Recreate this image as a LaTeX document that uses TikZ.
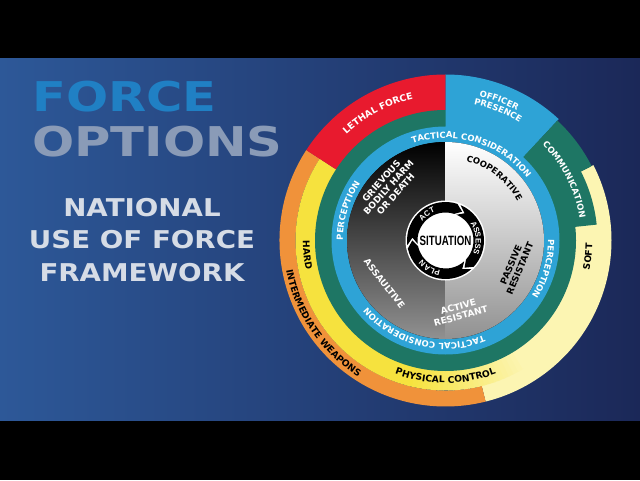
\documentclass[tikz,border=0pt]{standalone}
\usepackage{fontspec}
\setmainfont{DejaVu Sans}
\newfontfamily\arialfont{Liberation Sans}
\usetikzlibrary{decorations.text}

\definecolor{bgleft}{RGB}{45,88,152}
\definecolor{bgright}{RGB}{27,40,88}
\definecolor{titleblue}{RGB}{32,128,196}
\definecolor{titlegray}{RGB}{138,155,183}
\definecolor{subgray}{RGB}{214,220,230}
\definecolor{lethalred}{RGB}{232,26,46}
\definecolor{presenceblue}{RGB}{46,163,214}
\definecolor{commgreen}{RGB}{30,118,100}
\definecolor{hardyellow}{RGB}{246,226,62}
\definecolor{softyellow}{RGB}{252,245,178}
\definecolor{weaponorange}{RGB}{240,146,58}
\definecolor{diskgray}{RGB}{145,145,145}

\newcommand\ringfont{\fontsize{8.5}{9}\selectfont\bfseries}
\newcommand\bandfont{\fontsize{9.2}{10}\selectfont\bfseries}
\newcommand\cyclefont{\arialfont\fontsize{7.8}{8}\selectfont\bfseries}
\newcommand\innerfont{\fontsize{9}{9.6}\selectfont\bfseries}

\begin{document}
\begin{tikzpicture}[
		x=1pt, y=1pt,
		line join=round,
		inner/.style={font=\innerfont, align=center, inner sep=0pt},
		headline/.style={inner sep=0pt, font=\fontsize{41}{41}\selectfont\bfseries, 
			xscale=1.21, anchor=base west},
		subline/.style={inner sep=0pt, font=\fontsize{24.5}{24.5}\selectfont\bfseries, 
			xscale=1.13, anchor=base, text=subgray}
		]
		
		\useasboundingbox (0,0) rectangle (640,480);
		\fill[black] (0,0) rectangle (640,480);
		\fill[left color=bgleft, right color=bgright] (0,60) rectangle (640,421);
		
		\node[headline, text=titleblue] (force) at (32,368) {FORCE};
		\node[headline, text=titlegray] (options) at (32,323) {OPTIONS};
		\node[subline] (national) at (142,263) {NATIONAL};
		\node[subline] (useof) at (142,232) {USE OF FORCE};
		\node[subline] (framework) at (142,199) {FRAMEWORK};
		
		\def\ringlabel#1#2#3#4#5{%
			\path[decorate, decoration={text along path, text align=center, text={|#4|#5}}] 
			({#1+(#3)}:#2) arc[start angle={#1+(#3)}, end angle={#1-(#3)}, radius=#2];}
		
		\begin{scope}[shift={(445.5,239.5)}]
			\fill[softyellow] (-76:166) arc[start angle=-76, end angle=27, radius=166] -- 
			(27:129) arc[start angle=27, end angle=-76, radius=129] -- cycle;
			\fill[weaponorange] (147:166) arc[start angle=147, end angle=284, radius=166] -- 
			(284:150) arc[start angle=284, end angle=147, radius=150] -- cycle;
			\fill[hardyellow] (147:150) arc[start angle=147, end angle=256, radius=150] -- 
			(256:129) arc[start angle=256, end angle=147, radius=129] -- cycle;
			\foreach \a in {255,257,...,301} {
				\pgfmathtruncatemacro\p{(\a-255)*100/46}
				\fill[softyellow!\p!hardyellow] (\a:150) arc[start angle=\a, end angle=\a+2.4, radius=150] -- 
				({\a+2.4}:129) arc[start angle=\a+2.4, end angle=\a, radius=129] -- cycle;
			}
			
			\fill[lethalred] (90:166) arc[start angle=90, end angle=147, radius=166] -- 
			(147:130) arc[start angle=147, end angle=90, radius=130] -- cycle;
			\fill[commgreen, even odd rule] (0,0) circle[radius=130.5] (0,0) circle[radius=112];
			\fill[presenceblue] (47:166) arc[start angle=47, end angle=90, radius=166] -- 
			(90:100) arc[start angle=90, end angle=47, radius=100] -- cycle;
			\fill[commgreen] (6:112) -- (6:152) arc[start angle=6, end angle=27, radius=152] -- 
			(27:164) arc[start angle=27, end angle=47, radius=164] -- 
			(47:112) arc[start angle=47, end angle=6, radius=112] -- cycle;
			\fill[presenceblue, even odd rule] (0,0) circle[radius=114] (0,0) circle[radius=98];
			
			\fill[top color=black, bottom color=diskgray] 
			(90:98.5) arc[start angle=90, end angle=270, radius=98.5] -- cycle;
			\fill[top color=white, bottom color=diskgray] 
			(-90:98.5) arc[start angle=-90, end angle=90, radius=98.5] -- cycle;
			
			\fill[white] (0,0) circle[radius=40];
			\foreach \s/\e in {187/60, 67/-55, -48/-180} {
				\fill[black] (\s:38.5) arc[start angle=\s, end angle=\e+12, radius=38.5] -- 
				(\e:33.2) -- ({\e+12}:28) arc[start angle=\e+12, end angle=\s, radius=28] -- 
				({\s-12}:33.2) -- cycle;
			}
			\node[font=\arialfont\fontsize{13.5}{13.5}\selectfont\bfseries, xscale=0.72] 
			(situation) at (0,0) {SITUATION};
			\ringlabel{125}{30.2}{50}{\cyclefont\color{white}}{ACT}
			\ringlabel{5}{30.2}{50}{\cyclefont\color{white}}{ASSESS}
			\ringlabel{240}{30.2}{50}{\cyclefont\color{white}}{PLAN}
			
			\ringlabel{118}{145}{40}{\bandfont\color{white}}{LETHAL FORCE}
			\ringlabel{69}{148}{30}{\ringfont\color{white}}{OFFICER}
			\ringlabel{68}{139}{30}{\ringfont\color{white}}{PRESENCE}
			\ringlabel{27}{136}{35}{\ringfont\color{white}}{COMMUNICATION}
			\ringlabel{-6.5}{147}{-30}{\bandfont}{SOFT}
			\ringlabel{186}{142.5}{-30}{\bandfont}{HARD}
			\ringlabel{214}{162}{-45}{\bandfont}{INTERMEDIATE WEAPONS}
			\ringlabel{270}{142.5}{-42}{\bandfont}{PHYSICAL CONTROL}
			\ringlabel{73}{102.5}{55}{\ringfont\color{white}}{TACTICAL CONSIDERATION}
			\ringlabel{256}{102.5}{55}{\ringfont\color{white}}{TACTICAL CONSIDERATION}
			\ringlabel{163}{102.5}{40}{\ringfont\color{white}}{PERCEPTION}
			\ringlabel{-16}{102.5}{40}{\ringfont\color{white}}{PERCEPTION}
			\ringlabel{52}{82}{45}{\ringfont}{COOPERATIVE}
			
			\node[inner, text=white, rotate=48] (grievous) at (-57,53) {GRIEVOUS\\BODILY HARM\\OR DEATH};
			\node[inner, rotate=67] (passive) at (70,-26) {PASSIVE\\RESISTANT};
			\node[inner, text=white, rotate=15] (active) at (14,-71) {ACTIVE\\RESISTANT};
			\node[inner, text=white, rotate=-52] (assaultive) at (-61,-43) {ASSAULTIVE};
		\end{scope}
		
\end{tikzpicture}
\end{document}
